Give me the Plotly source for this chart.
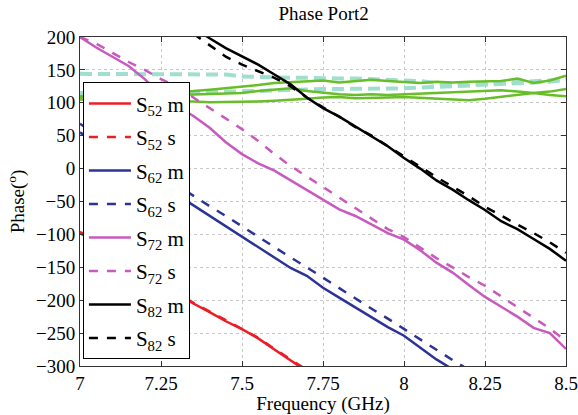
import plotly.graph_objects as go

freq = [round(7.0 + 0.05 * i, 2) for i in range(31)]

# S52
s52_m = [-98, -114, -129, -144, -160, -175, -190, -205, -218, -232, -244, -258, -275, -292, -308]
s52_s = [-96, -112, -128, -143, -158, -174, -189, -204, -217, -231, -243, -257, -274, -290, -306]
# S62
s62_m = [55, 38, 22, 6, -10, -25, -40, -56, -72, -88, -104, -119, -136, -151, -163, -181,
         -196, -211, -225, -241, -254, -272, -290, -305]
s62_s = [68, 52, 37, 21, 6, -10, -26, -41, -57, -72, -88, -104, -119, -135, -150, -166,
         -182, -197, -213, -228, -244, -260, -275, -291, -306]
# S72
s72_m = [200, 184, 170, 156, 136, 112, 95, 80, 62, 40, 22, 8, -3, -18, -33, -48, -62, -72,
         -85, -98, -108, -124, -143, -158, -177, -195, -210, -225, -242, -250, -274]
s72_s = [200, 190, 176, 162, 150, 136, 124, 108, 92, 76, 60, 42, 22, 4, -12, -28, -45, -60,
         -76, -92, -104, -120, -136, -150, -165, -178, -194, -210, -226, -243, -262]
# S82 (starts at 7.35)
freq82 = freq[7:]
s82_m = [215, 198, 183, 170, 158, 143, 128, 108, 92, 79, 64, 50, 34, 16, 0, -18, -32, -48,
         -63, -80, -92, -107, -122, -140]
s82_s = [205, 188, 170, 158, 148, 138, 125, 108, 93, 79, 63, 50, 34, 19, 3, -13, -27, -42,
         -58, -72, -85, -98, -112, -128]

# extra (unlabelled) curves
green_1 = [110, 111, 112, 113, 114, 115, 116, 118, 120, 122, 124, 127, 130, 131, 133, 134,
           131, 133, 135, 133, 131, 130, 132, 131, 132, 132, 133, 137, 130, 134, 141]
green_2 = [108, 108, 109, 110, 110, 111, 112, 113, 114, 114, 115, 118, 120, 122, 118, 115,
           113, 112, 113, 112, 113, 114, 115, 116, 117, 118, 119, 117, 115, 117, 121]
green_3 = [105, 105, 104, 104, 104, 103, 103, 102, 101, 101, 101, 102, 103, 104, 106, 108,
           109, 107, 107, 108, 109, 108, 107, 105, 104, 106, 109, 112, 115, 112, 110]
cyan_1 = [144, 144, 144, 144, 144, 144, 144, 144, 144, 143, 140, 139, 138, 138, 138, 137,
          137, 137, 136, 136, 135, 133, 130, 129, 128, 129, 130, 131, 132, 134, 137]
cyan_2 = [115, 115, 115, 115, 115, 116, 116, 116, 116, 117, 117, 118, 119, 120, 120, 121,
          121, 121, 121, 122, 122, 123, 124, 125, 126, 127, 128, 129, 130, 132, 135]

RED = "rgb(238,28,36)"
BLUE = "rgb(43,52,150)"
MAG = "rgb(200,90,190)"
BLK = "rgb(0,0,0)"
GREEN = "rgb(104,190,40)"
CYAN = "rgb(160,222,205)"

fig = go.Figure()
for y in (cyan_1, cyan_2):
    fig.add_trace(go.Scatter(x=freq, y=y, mode="lines", showlegend=False,
                             line=dict(color=CYAN, width=4, dash="12px,6px")))
for y in (green_1, green_2, green_3):
    fig.add_trace(go.Scatter(x=freq, y=y, mode="lines", showlegend=False,
                             line=dict(color=GREEN, width=2.5)))

series = [
    ("S<sub>52</sub> m", freq[:len(s52_m)], s52_m, RED, "solid"),
    ("S<sub>52</sub> s", freq[:len(s52_s)], s52_s, RED, "dash"),
    ("S<sub>62</sub> m", freq[:len(s62_m)], s62_m, BLUE, "solid"),
    ("S<sub>62</sub> s", freq[:len(s62_s)], s62_s, BLUE, "dash"),
    ("S<sub>72</sub> m", freq, s72_m, MAG, "solid"),
    ("S<sub>72</sub> s", freq, s72_s, MAG, "dash"),
    ("S<sub>82</sub> m", freq82, s82_m, BLK, "solid"),
    ("S<sub>82</sub> s", freq82, s82_s, BLK, "dash"),
]
for i, (name, x, y, c, d) in enumerate(series):
    fig.add_trace(go.Scatter(x=x, y=y, mode="lines", name=name, legendgroup="g%d" % i,
                             line=dict(color=c, width=2.5, dash=d)))

FONT = "Liberation Serif, Times New Roman, serif"
axis_common = dict(showline=True, linecolor="#333333", linewidth=1, mirror="allticks",
                   ticks="inside", ticklen=5, tickcolor="#333333", automargin=False,
                   showgrid=True, gridcolor="#c8c8c8", griddash="dot", gridwidth=1,
                   zeroline=False, tickfont=dict(family=FONT, size=19, color="black"))

fig.update_layout(
    width=578, height=415,
    margin=dict(l=80, r=12, t=37, b=49),
    paper_bgcolor="white", plot_bgcolor="white",
    title=dict(text="Phase Port2", x=0.56, xanchor="center", y=0.985, yanchor="top",
               font=dict(family=FONT, size=19, color="black")),
    xaxis=dict(range=[7, 8.5], tickvals=[7, 7.25, 7.5, 7.75, 8, 8.25, 8.5],
               ticktext=["7", "7.25", "7.5", "7.75", "8", "8.25", "8.5"],
               title=dict(text="Frequency (GHz)", standoff=2,
                          font=dict(family=FONT, size=19, color="black")),
               **axis_common),
    yaxis=dict(range=[-300, 200], dtick=50,
               title=dict(text="Phase(<sup>o</sup>)", standoff=6,
                          font=dict(family=FONT, size=19, color="black")),
               **axis_common),
    legend=dict(x=0.006, y=0.862, xanchor="left", yanchor="top",
                bgcolor="white", bordercolor="black", borderwidth=1,
                font=dict(family=FONT, size=21, color="black"),
                tracegroupgap=3.2, traceorder="grouped", itemwidth=42),
    showlegend=True,
)

fig.write_html("out.html")
